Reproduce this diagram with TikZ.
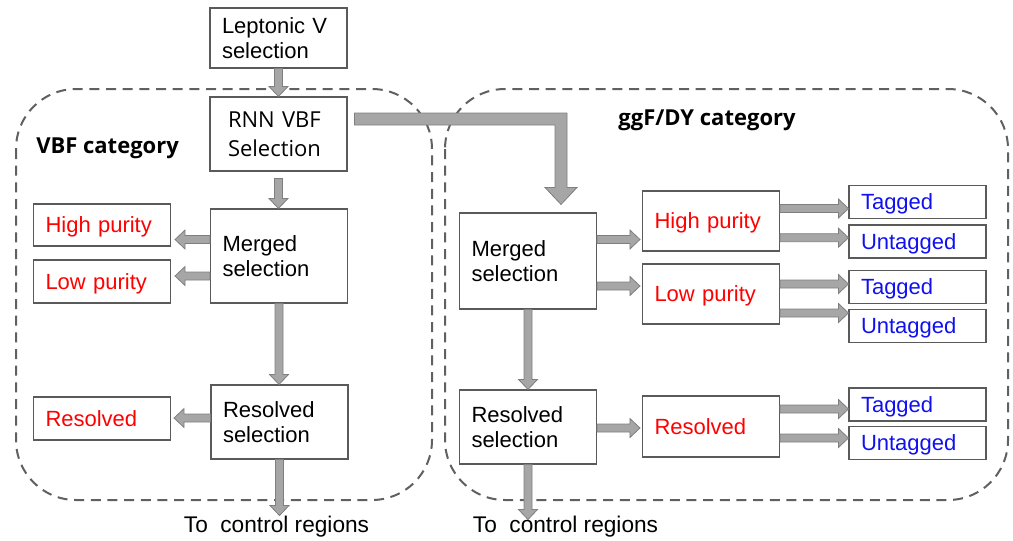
\documentclass[tikz,border=0pt]{standalone}
\usepackage{fontspec}
\setmainfont{Liberation Sans}
\newfontfamily\osans{Open Sans}
\usetikzlibrary{calc}
\definecolor{arrfill}{HTML}{A6A6A6}
\definecolor{arrline}{HTML}{7F7F7F}
\definecolor{boxline}{HTML}{5A5A5A}
\definecolor{dashc}{HTML}{606060}
\definecolor{redtxt}{HTML}{FF0000}
\definecolor{bluetxt}{HTML}{1010F0}
\newcommand\fatarrow[2]{%
  \path[fatarr] let \p1=(#1), \p2=(#2),
    \n1={atan2(\y2-\y1,\x2-\x1)}, \n2={veclen(\x2-\x1,\y2-\y1)} in
    [shift={(\p1)}, rotate=\n1]
    (0pt,3pt) -- (\n2-7.5pt,3pt) -- (\n2-7.5pt,7.1pt) -- (\n2+0pt,0pt)
    -- (\n2-7.5pt,-7.1pt) -- (\n2-7.5pt,-3pt) -- (0pt,-3pt) -- cycle;}
\tikzset{
  fatarr/.style={fill=arrfill, draw=arrline, line width=0.6pt, line join=miter},
  box/.style={draw=boxline, line width=0.8pt, inner xsep=9pt, inner ysep=0pt,
    text width=84.75pt, align=left, font=\fontsize{16.5}{19}\selectfont},
  redbox/.style={box, text=redtxt, text depth=0pt},
  bluebox/.style={box, text=bluetxt, text depth=0pt, minimum height=24.75pt},
  catlabel/.style={font=\osans\bfseries\fontsize{16.5}{19}\selectfont, inner sep=0pt},
  ctrl/.style={font=\fontsize{17}{19}\selectfont, inner sep=0pt},
  dashbox/.style={draw=dashc, line width=1.5pt, dash pattern=on 7.5pt off 5pt, rounded corners=45pt}
}
\begin{document}
\begin{tikzpicture}[x=0.75pt, y=-0.75pt]
\useasboundingbox (0,0) rectangle (1013,540);
% category frames
\draw[dashbox] (16,89) rectangle (432,500);
\draw[dashbox] (445,89) rectangle (1008,500);
% nodes
\node[box, minimum height=45pt] (lep) at (278.5,38) {Leptonic V\\selection};
\node[box, minimum height=55.5pt, inner xsep=13.5pt, text width=75.75pt,
      font=\osans\fontsize{16.5}{21.5}\selectfont] (rnn) at (278.5,134) {RNN VBF\\Selection};
\node[box, minimum height=70.5pt] (mgL) at (279,256) {Merged\\selection};
\node[redbox, minimum height=31.5pt] (hpL) at (102,225) {High purity};
\node[redbox, minimum height=32.25pt] (lpL) at (102,281.5) {Low purity};
\node[box, minimum height=55.5pt] (rsL) at (279.5,422) {Resolved\\selection};
\node[redbox, minimum height=32.25pt] (resL) at (102,418.5) {Resolved};
\node[box, minimum height=72pt] (mgR) at (528,261) {Merged\\selection};
\node[redbox, minimum height=45pt] (hpR) at (711,221) {High purity};
\node[redbox, minimum height=45pt] (lpR) at (711,294) {Low purity};
\node[box, minimum height=55.5pt] (rsR) at (528,427) {Resolved\\selection};
\node[redbox, minimum height=45.75pt] (resR) at (711,426.5) {Resolved};
\node[bluebox] (t1) at (917.5,202) {Tagged};
\node[bluebox] (u1) at (917.5,241.5) {Untagged};
\node[bluebox] (t2) at (917.5,287) {Tagged};
\node[bluebox] (u2) at (917.5,326) {Untagged};
\node[bluebox] (t3) at (917.5,404.5) {Tagged};
\node[bluebox] (u3) at (917.5,443) {Untagged};
\node[catlabel, anchor=west] (vbfcat) at (36,148) {VBF category};
\node[catlabel] (ggfcat) at (707,120) {ggF/DY category};
\node[ctrl] (ctrlL) at (276.5,527) {To~ control regions};
\node[ctrl] (ctrlR) at (565.5,527) {To~ control regions};
% coordinates for connectors
\coordinate (rnnS) at ($(rnn.south)+(0,7)$);
\coordinate (a1s) at ($(mgL.west)+(0,-16.5)$);
\coordinate (a1e) at ($(hpL.east |- a1s)+(4,0)$);
\coordinate (a2s) at ($(mgL.west)+(0,20)$);
\coordinate (a2e) at ($(lpL.east |- a2s)+(4,0)$);
\coordinate (a4s) at ($(rsL.west)+(0,-4)$);
\coordinate (a4e) at ($(resL.east |- a4s)+(3,0)$);
\coordinate (cL) at ($(rsL.south)+(0,56)$);
\coordinate (b1s) at ($(mgR.east)+(0,-21.5)$);
\coordinate (b1e) at ($(hpR.west |- b1s)+(-2,0)$);
\coordinate (b2s) at ($(mgR.east)+(0,25)$);
\coordinate (b2e) at ($(lpR.west |- b2s)+(-2,0)$);
\coordinate (b4s) at ($(rsR.east)+(0,1)$);
\coordinate (b4e) at ($(resR.west |- b4s)+(-2,0)$);
\coordinate (cR) at ($(rsR.south)+(0,55)$);
\coordinate (c1s) at ($(hpR.east)+(0,-12.5)$);
\coordinate (c1e) at (t1.west |- c1s);
\coordinate (c2s) at ($(hpR.east)+(0,16.7)$);
\coordinate (c2e) at (u1.west |- c2s);
\coordinate (c3s) at ($(lpR.east)+(0,-10)$);
\coordinate (c3e) at (t2.west |- c3s);
\coordinate (c4s) at ($(lpR.east)+(0,19)$);
\coordinate (c4e) at (u2.west |- c4s);
\coordinate (c5s) at ($(resR.east)+(0,-17.5)$);
\coordinate (c5e) at (t3.west |- c5s);
\coordinate (c6s) at ($(resR.east)+(0,11.5)$);
\coordinate (c6e) at (u3.west |- c6s);
% connectors
\fatarrow{lep.south}{lep.south |- rnn.north}
\fatarrow{rnnS}{rnnS |- mgL.north}
\fatarrow{a1s}{a1e}
\fatarrow{a2s}{a2e}
\fatarrow{mgL.south}{mgL.south |- rsL.north}
\fatarrow{a4s}{a4e}
\fatarrow{rsL.south}{cL}
\fatarrow{b1s}{b1e}
\fatarrow{b2s}{b2e}
\fatarrow{mgR.south}{mgR.south |- rsR.north}
\fatarrow{b4s}{b4e}
\fatarrow{rsR.south}{cR}
\fatarrow{c1s}{c1e}
\fatarrow{c2s}{c2e}
\fatarrow{c3s}{c3e}
\fatarrow{c4s}{c4e}
\fatarrow{c5s}{c5e}
\fatarrow{c6s}{c6e}
% L-shaped arrow from RNN VBF selection to ggF/DY merged selection
\coordinate (ls) at ($(rnn.east)+(7,-15)$);
\coordinate (lt) at ($(mgR.north)+(33,-8)$);
\path[fatarr] ($(ls)+(0,-6)$) -- ($(lt |- ls)+(6,-6)$) -- ($(lt)+(6,-17)$)
  -- ($(lt)+(16,-17)$) -- (lt) -- ($(lt)+(-16,-17)$) -- ($(lt)+(-6,-17)$)
  -- ($(lt |- ls)+(-6,6)$) -- ($(ls)+(0,6)$) -- cycle;
\end{tikzpicture}
\end{document}
